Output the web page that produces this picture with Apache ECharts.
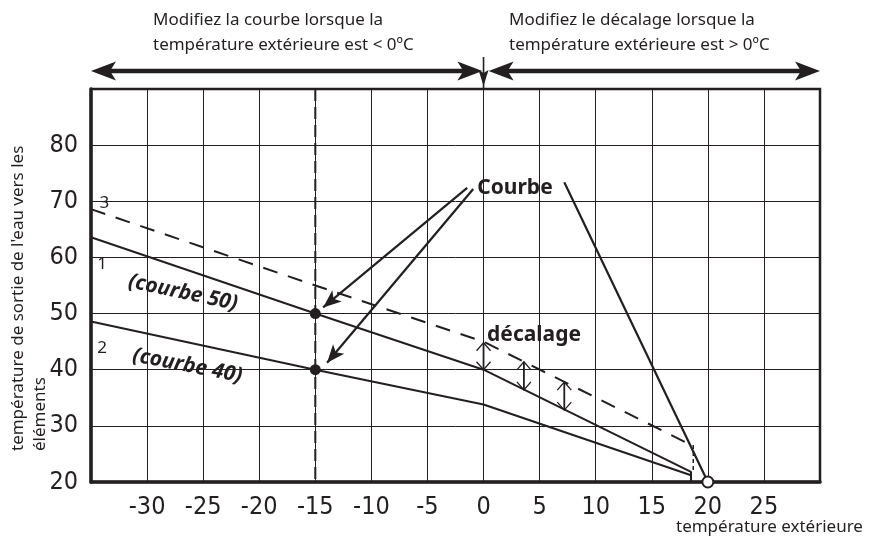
<!DOCTYPE html>
<html><head><meta charset="utf-8">
<script src="https://cdn.jsdelivr.net/npm/echarts@6/dist/echarts.min.js"></script>
<style>html,body{margin:0;padding:0;background:#fff}#c{width:872px;height:544px}</style>
</head><body><div id="c"></div>
<script>
// ---- data ----
const xRange = [-35, 30];
const yRange = [20, 90];
const courbe50 = [[-35, 63.6], [-15, 50], [0, 40], [18.5, 21.8], [18.5, 20]];
const courbe40 = [[-35, 48.6], [-15, 40], [0, 33.8], [18.5, 21.2]];
const courbeDecalee = [[-35, 68.6], [-15, 55], [0, 45], [18.5, 26.6]];
const decaleeDrop = [[18.7, 26.6], [18.7, 21.9]];
const refLine = [[-15, 90], [-15, 20]];
const refPoints = [[-15, 50], [-15, 40]];
const pointerLine = [[7.2, 73.4], [20, 20]];
const courbeArrows = [[[-1.46, 72.4], [-14.3, 51.1]], [[-0.92, 72.2], [-13.95, 41.25]]];
const decalageArrows = [[0, 40, 44.8], [3.6, 36.4, 41.4], [7.2, 32.8, 37.8]];
const topArrows = [[-35, -0.1], [0.45, 30]];
const topDivider = [[0]];
const textLabels = [
  {x: -33.8, y: 69.6, text: '3', rot: 0, bold: false, italic: false, size: 17},
  {x: -34.0, y: 58.8, text: '1', rot: 0, bold: false, italic: false, size: 17},
  {x: -34.0, y: 43.9, text: '2', rot: 0, bold: false, italic: false, size: 17},
  {x: -26.8, y: 53.7, text: '(courbe 50)', rot: -12, bold: true, italic: true, size: 21},
  {x: -26.4, y: 40.7, text: '(courbe 40)', rot: -11, bold: true, italic: true, size: 21},
  {x: 2.8, y: 72.3, text: 'Courbe', rot: 0, bold: true, italic: false, size: 21},
  {x: 4.5, y: 46.2, text: 'décalage', rot: 0, bold: true, italic: false, size: 21}
];
const titleLeft = 'Modifiez la courbe lorsque la\ntempérature extérieure est < 0ºC';
const titleRight = 'Modifiez le décalage lorsque la\ntempérature extérieure est > 0ºC';
const yName = 'température de sortie de l\'eau vers les\néléments';
const xName = 'température extérieure';

const INK = '#231f20';
const TICKFONT = '"Liberation Sans Narrow", "DejaVu Sans Condensed", "Noto Sans", sans-serif';
const TXT = '"Noto Sans", "Open Sans", sans-serif';

const chart = echarts.init(document.getElementById('c'), null, {renderer: 'canvas'});

function arrowHead(tipX, tipY, dir, len, half, back) {
  const [dx, dy] = dir; const nx = -dy, ny = dx;
  const bx = tipX - dx * len, by = tipY - dy * len;
  const mx = tipX - dx * (len - back), my = tipY - dy * (len - back);
  return [[tipX, tipY], [bx + nx * half, by + ny * half], [mx, my], [bx - nx * half, by - ny * half]];
}

const option = {
  animation: false,
  backgroundColor: '#fff',
  grid: {left: 91, right: 52, top: 89, bottom: 62, show: true, borderColor: INK, borderWidth: 2.5, backgroundColor: 'transparent'},
  xAxis: {
    type: 'value', min: xRange[0], max: xRange[1], interval: 5,
    axisLine: {onZero: false, lineStyle: {color: INK, width: 3.5}},
    axisTick: {show: false},
    splitLine: {show: true, lineStyle: {color: INK, width: 1}},
    axisLabel: {showMinLabel: false, showMaxLabel: false, margin: 13, color: INK, fontSize: 25, fontFamily: TICKFONT}
  },
  yAxis: {
    type: 'value', min: yRange[0], max: yRange[1], interval: 10,
    axisLine: {show: true, onZero: false, lineStyle: {color: INK, width: 3.5}},
    axisTick: {show: false},
    splitLine: {show: true, lineStyle: {color: INK, width: 1}},
    axisLabel: {showMaxLabel: false, margin: 13, color: INK, fontSize: 25, fontFamily: TICKFONT}
  },
  graphic: [
    {type: 'text', left: 153, top: 8, style: {text: titleLeft, font: '17px ' + TXT, fill: INK, lineHeight: 25}},
    {type: 'text', left: 509, top: 8, style: {text: titleRight, font: '17px ' + TXT, fill: INK, lineHeight: 25}},
    {type: 'text', x: 29, y: 451, rotation: Math.PI / 2, style: {text: yName, font: '17px ' + TXT, fill: INK, lineHeight: 22, align: 'left', verticalAlign: 'middle'}},
    {type: 'text', left: 676, top: 519, style: {text: xName, font: '17px ' + TXT, fill: INK}}
  ],
  series: [
    {type: 'line', data: refLine, symbol: 'none', silent: true, z: 3,
     lineStyle: {color: INK, width: 2, type: [12, 6]}},
    {type: 'line', data: courbeDecalee, symbol: 'none', silent: true, z: 3,
     lineStyle: {color: INK, width: 2, type: [15, 11]}},
    {type: 'line', data: decaleeDrop, symbol: 'none', silent: true, z: 3,
     lineStyle: {color: INK, width: 1.5, type: [4, 3]}},
    {type: 'line', data: courbe50, symbol: 'none', silent: true, z: 4,
     lineStyle: {color: INK, width: 2}},
    {type: 'line', data: courbe40, symbol: 'none', silent: true, z: 4,
     lineStyle: {color: INK, width: 2}},
    {type: 'line', data: pointerLine, symbol: 'none', silent: true, z: 4,
     lineStyle: {color: INK, width: 2.2}},
    {type: 'scatter', data: [pointerLine[pointerLine.length - 1]], symbol: 'circle', symbolSize: 11, silent: true, z: 6,
     itemStyle: {color: '#fff', borderColor: INK, borderWidth: 2, opacity: 1}},
    {type: 'scatter', data: refPoints, symbol: 'circle', symbolSize: 11, silent: true, z: 6,
     itemStyle: {color: INK, opacity: 1},
     markLine: {silent: true, symbol: ['none', 'arrow'], symbolSize: [11, 18], animation: false,
       lineStyle: {color: INK, width: 2.2, type: 'solid', opacity: 1}, label: {show: false},
       data: courbeArrows.map(a => [{coord: a[0]}, {coord: a[1]}])}},
    {type: 'custom', data: decalageArrows, silent: true, z: 7, clip: false,
     renderItem: function (params, api) {
       const x = api.value(0);
       const p1 = api.coord([x, api.value(1)]);
       const p2 = api.coord([x, api.value(2)]);
       const w = 7, h = 8;
       const st = {stroke: INK, lineWidth: 1.3, fill: null};
       return {type: 'group', children: [
         {type: 'line', shape: {x1: p1[0], y1: p1[1], x2: p2[0], y2: p2[1]}, style: {stroke: INK, lineWidth: 1.8}},
         {type: 'polyline', shape: {points: [[p2[0] - w, p2[1] + h], [p2[0], p2[1]], [p2[0] + w, p2[1] + h]]}, style: st},
         {type: 'polyline', shape: {points: [[p1[0] - w, p1[1] - h], [p1[0], p1[1]], [p1[0] + w, p1[1] - h]]}, style: st}
       ]};
     }},
    {type: 'custom', data: topArrows, silent: true, z: 7, clip: false,
     renderItem: function (params, api) {
       const a = api.coord([api.value(0), yRange[1]]);
       const b = api.coord([api.value(1), yRange[1]]);
       const y = a[1] - 18;
       const len = 25, half = 9.5, back = 6;
       return {type: 'group', children: [
         {type: 'line', shape: {x1: a[0] + 15, y1: y, x2: b[0] - 15, y2: y}, style: {stroke: INK, lineWidth: 4.5}},
         {type: 'polygon', shape: {points: arrowHead(a[0], y, [-1, 0], len, half, back)}, style: {fill: INK}},
         {type: 'polygon', shape: {points: arrowHead(b[0], y, [1, 0], len, half, back)}, style: {fill: INK}}
       ]};
     }},
    {type: 'custom', data: topDivider, silent: true, z: 7, clip: false,
     renderItem: function (params, api) {
       const p = api.coord([api.value(0), yRange[1]]);
       return {type: 'group', children: [
         {type: 'line', shape: {x1: p[0], y1: p[1] - 32, x2: p[0], y2: p[1]}, style: {stroke: INK, lineWidth: 1.6}},
         {type: 'polygon', shape: {points: arrowHead(p[0], p[1] - 3, [0, 1], 16, 5, 3)}, style: {fill: INK}}
       ]};
     }},
    {type: 'scatter', silent: true, z: 8, symbolSize: 0, itemStyle: {opacity: 1},
     data: textLabels.map(t => ({
       value: [t.x, t.y],
       label: {show: true, position: 'inside', formatter: t.text, rotate: t.rot, color: INK, opacity: 1,
               fontSize: t.size, fontWeight: t.bold ? 'bold' : 'normal',
               fontStyle: t.italic ? 'italic' : 'normal', fontFamily: TXT}
     }))}
  ]
};
chart.setOption(option);
</script>
</body></html>
